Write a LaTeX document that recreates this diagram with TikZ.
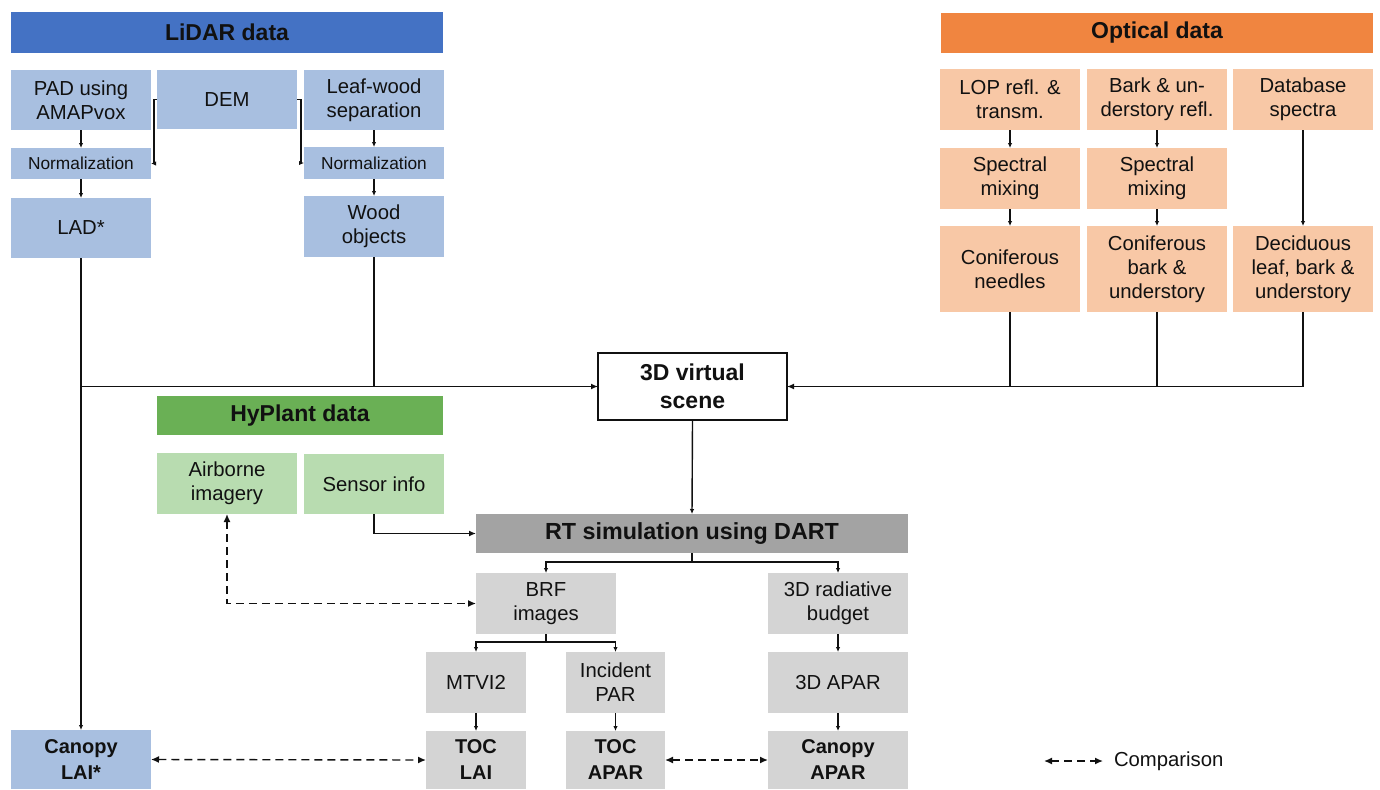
\documentclass[tikz,border=0pt]{standalone}
\usepackage{fontspec}
\setmainfont{Liberation Sans}
\usetikzlibrary{arrows.meta,calc}
\definecolor{lidarH}{HTML}{4472C4}
\definecolor{lidarL}{HTML}{A8BFE0}
\definecolor{optH}{HTML}{F08540}
\definecolor{optL}{HTML}{F8C8A6}
\definecolor{hypH}{HTML}{6AB055}
\definecolor{hypL}{HTML}{B8DCB0}
\definecolor{rtH}{HTML}{A3A3A3}
\definecolor{grayL}{HTML}{D4D4D4}
\definecolor{ink}{HTML}{111111}
\tikzset{
  box/.style={inner sep=0pt, outer sep=0pt, align=center, text=ink,
    font=\fontsize{20.3}{24}\selectfont},
  hdr/.style={box, font=\fontsize{23}{26}\selectfont\bfseries},
  bbox/.style={box, font=\fontsize{20}{26}\selectfont\bfseries},
  small/.style={box, font=\fontsize{17.3}{20}\selectfont},
  lb/.style={fill=lidarL}, lh/.style={fill=lidarH},
  ob/.style={fill=optL}, oh/.style={fill=optH},
  gb/.style={fill=hypL}, gh/.style={fill=hypH},
  rb/.style={fill=grayL}, rh/.style={fill=rtH},
  sz/.style 2 args={minimum width=#1pt, minimum height=#2pt},
  conn/.style={line width=1.4pt, draw=ink},
  arr/.style={conn, -{Latex[length=7pt,width=6pt]}},
  sarr/.style={conn, -{Latex[length=5pt,width=4.5pt]}},
  darr/.style={conn, dash pattern=on 8pt off 5pt, {Latex[length=8pt,width=7pt]}-{Latex[length=8pt,width=7pt]}},
}
\begin{document}
\begin{tikzpicture}[x=1pt,y=-1pt]
\useasboundingbox (0,0) rectangle (1380,789);
% LiDAR
\node[hdr,lh,sz={432}{41}] (lidar) at (227,32.5) {LiDAR data};
\node[box,lb,sz={140}{60}] (pad) at (81,100) {PAD using\\AMAPvox};
\node[box,lb,sz={140}{59}] (dem) at (227,99.5) {DEM};
\node[box,lb,sz={140}{60}] (leaf) at (374,100) {Leaf-wood\\separation};
\node[small,lb,sz={140}{31}] (norm1) at (81,163.5) {Normalization};
\node[small,lb,sz={140}{32}] (norm2) at (374,163) {Normalization};
\node[box,lb,sz={140}{60}] (lad) at (81,228) {LAD*};
\node[box,lb,sz={140}{61}] (wood) at (374,226.5) {Wood\\objects};
% Optical
\node[hdr,oh,sz={432}{40}] (optical) at (1157,33) {Optical data};
\node[box,ob,sz={140}{61}] (lop) at (1010,99.5) {LOP refl. \&\\transm.};
\node[box,ob,sz={140}{61}] (bark) at (1157,99.5) {Bark \& un-\\derstory refl.};
\node[box,ob,sz={140}{61}] (dbs) at (1303,99.5) {Database\\spectra};
\node[box,ob,sz={140}{61}] (mix1) at (1010,178.5) {Spectral\\mixing};
\node[box,ob,sz={140}{61}] (mix2) at (1157,178.5) {Spectral\\mixing};
\node[box,ob,sz={140}{86}] (conn1) at (1010,269) {Coniferous\\needles};
\node[box,ob,sz={140}{86}] (conb) at (1157,269) {Coniferous\\bark \&\\understory};
\node[box,ob,sz={140}{86}] (decid) at (1303,269) {Deciduous\\leaf, bark \&\\understory};
% Scene
\node[bbox,draw=ink,line width=1.2pt,fill=white,sz={189}{67},font=\fontsize{23}{28}\selectfont\bfseries] (scene) at (692.5,386.5) {3D virtual\\scene};
% HyPlant
\node[hdr,gh,sz={286}{39}] (hyp) at (300,415.5) {HyPlant data};
\node[box,gb,sz={140}{61}] (air) at (227,483.5) {Airborne\\imagery};
\node[box,gb,sz={140}{60}] (sensor) at (374,484) {Sensor info};
% RT
\node[hdr,rh,sz={432}{39},font=\fontsize{23.3}{26}\selectfont\bfseries] (rt) at (692,533.5) {RT simulation using DART};
\node[box,rb,sz={140}{61}] (brf) at (546,603.5) {BRF\\images};
\node[box,rb,sz={140}{61}] (rad) at (838,603.5) {3D radiative\\budget};
\node[box,rb,sz={100}{61}] (mtvi) at (476,682.5) {MTVI2};
\node[box,rb,sz={99}{61}] (ipar) at (615.5,682.5) {Incident\\PAR};
\node[box,rb,sz={140}{61}] (apar3d) at (838,682.5) {3D APAR};
\node[bbox,rb,sz={100}{58}] (toclai) at (476,760) {TOC\\LAI};
\node[bbox,rb,sz={99}{58}] (tocapar) at (615.5,760) {TOC\\APAR};
\node[bbox,rb,sz={140}{58}] (canapar) at (838,760) {Canopy\\APAR};
\node[bbox,lb,sz={140}{59}] (canlai) at (81,759.5) {Canopy\\LAI*};
% Legend
\coordinate (lg1) at (1044,761);
\coordinate (lg2) at (1103,761);
\node[box,anchor=west] (leg) at (1114,761) {Comparison};
\draw[darr] (lg1) -- (lg2);
% LiDAR connectors
\draw[sarr] (pad.south) -- (norm1.north);
\draw[sarr] (norm1.south) -- (lad.north);
\draw[sarr] (leaf.south) -- (norm2.north);
\draw[sarr] (norm2.south) -- (wood.north);
\draw[sarr] (dem.west) -- ++(-3,0) |- (norm1.east);
\draw[sarr] (dem.east) -- ++(4,0) |- (norm2.west);
\draw[sarr] (lad.south) -- (canlai.north);
\draw[arr] (lad.south |- scene.west) -- (scene.west);
\draw[conn] (wood.south) -- (wood.south |- scene.west);
% Optical connectors
\draw[sarr] (lop.south) -- (mix1.north);
\draw[sarr] (mix1.south) -- (conn1.north);
\draw[sarr] (bark.south) -- (mix2.north);
\draw[sarr] (mix2.south) -- (conb.north);
\draw[sarr] (dbs.south) -- (decid.north);
\draw[arr] (decid.south) |- (scene.east);
\draw[conn] (conn1.south) -- (conn1.south |- scene.east);
\draw[conn] (conb.south) -- (conb.south |- scene.east);
% Simulation
\draw[sarr] (scene.south) -- (rt.north);
\draw[arr] (sensor.south) |- (rt.west);
\draw[sarr] (rt.south) -- ++(0,9) -| (brf.north);
\draw[sarr] (rt.south) -- ++(0,9) -| (rad.north);
\draw[sarr] (brf.south) -- ++(0,8) -| (mtvi.north);
\draw[sarr] (brf.south) -- ++(0,8) -| (ipar.north);
\draw[sarr] (rad.south) -- (apar3d.north);
\draw[sarr] (apar3d.south) -- (canapar.north);
\draw[sarr] (mtvi.south) -- (toclai.north);
\draw[sarr] (ipar.south) -- (tocapar.north);
% Comparisons
\draw[darr] (air.south) |- (brf.west);
\draw[darr] (canlai.east) -- (toclai.west);
\draw[darr] (tocapar.east) -- (canapar.west);
\end{tikzpicture}
\end{document}
